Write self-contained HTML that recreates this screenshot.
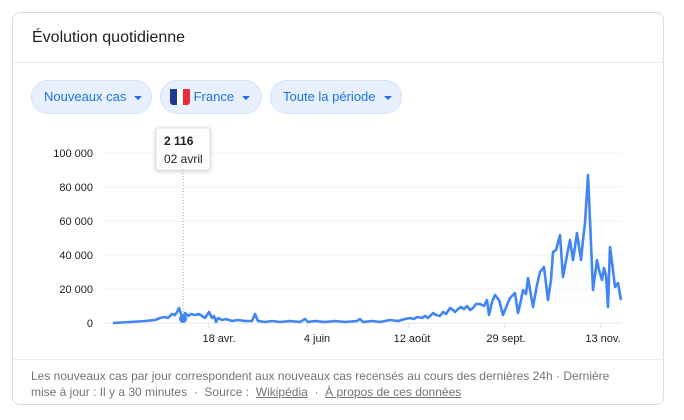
<!DOCTYPE html>
<html><head><meta charset="utf-8"><style>
body{margin:0;background:#fff;font-family:"Liberation Sans",Arial,sans-serif;}
.card{position:absolute;left:12px;top:12px;width:652px;height:393px;border:1px solid #dadce0;border-radius:8px;box-sizing:border-box;}
.title{position:absolute;left:32px;top:29px;font-size:16px;color:#202124;}
.hr{position:absolute;left:13px;width:651px;height:1px;background:#ebebeb;}
.chip{position:absolute;top:80px;height:34px;border-radius:17px;background:#e8f0fe;border:1px solid #d2e3fc;box-sizing:border-box;color:#1a73e8;font-size:13px;line-height:32px;}
.chip .c{display:inline-block;width:0;height:0;border-left:4px solid transparent;border-right:4px solid transparent;border-top:4px solid #1a73e8;vertical-align:middle;margin-left:8px;}
.foot{position:absolute;left:31px;top:368px;font-size:12px;color:#70757a;line-height:16px;width:592px;}
.foot u{color:#70757a;}
</style></head><body>
<div class="card"></div>
<div class="title">Évolution quotidienne</div>
<div class="hr" style="top:62px"></div>
<div class="chip" style="left:31px;width:121px;padding-left:12px">Nouveaux cas<span class="c"></span></div>
<div class="chip" style="left:160px;width:102px;padding-left:9px"><span style="display:inline-block;width:20px;height:18px;vertical-align:middle;margin-top:-3px;border-radius:3px;overflow:hidden"><span style="display:inline-block;width:7px;height:18px;background:#1f3a93"></span><span style="display:inline-block;width:6px;height:18px;background:#fff"></span><span style="display:inline-block;width:7px;height:18px;background:#ee2a3a"></span></span> France<span class="c"></span></div>
<div class="chip" style="left:270px;width:132px;padding-left:12px">Toute la période<span class="c"></span></div>
<svg width="684" height="420" style="position:absolute;left:0;top:0" font-family="Liberation Sans, Arial, sans-serif">
<defs><linearGradient id="g" x1="0" y1="0" x2="0" y2="1"><stop offset="0" stop-color="#e8f0fe" stop-opacity="0.8"/><stop offset="1" stop-color="#fff" stop-opacity="0.2"/></linearGradient></defs>
<g stroke="#f1f3f4" stroke-width="1">
<line x1="105" y1="153" x2="622" y2="153"/><line x1="105" y1="187" x2="622" y2="187"/><line x1="105" y1="221" x2="622" y2="221"/><line x1="105" y1="255" x2="622" y2="255"/><line x1="105" y1="289" x2="622" y2="289"/></g>
<line x1="105" y1="323" x2="622" y2="323" stroke="#e6e6e6"/>
<g font-size="11" fill="#202124" text-anchor="end">
<text x="93" y="157">100 000</text><text x="93" y="191">80 000</text><text x="93" y="225">60 000</text><text x="93" y="259">40 000</text><text x="93" y="293">20 000</text><text x="93" y="327">0</text></g>
<g stroke="#dadce0"><line x1="209" y1="323" x2="209" y2="328"/><line x1="307" y1="323" x2="307" y2="328"/><line x1="409" y1="323" x2="409" y2="328"/><line x1="505" y1="323" x2="505" y2="328"/><line x1="601" y1="323" x2="601" y2="328"/></g>
<g font-size="11" fill="#202124" text-anchor="middle">
<text x="219" y="342">18 avr.</text><text x="317" y="342">4 juin</text><text x="412" y="342">12 août</text><text x="506" y="342">29 sept.</text><text x="603" y="342">13 nov.</text></g>
<line x1="183" y1="170" x2="183" y2="323" stroke="#9aa0a6" stroke-dasharray="1,2"/>
<path d="M113,323 L150,321 160,318 170,315 177,312 179,308 182,316 186,313 190,315 200,314 205,318 209,312 213,318 216,322 218,318 230,320 252,321 255,314 258,321 300,322 305,319 308,322 357,321 360,319 363,322 400,320 410,318 417,317 433,313 450,308 467,306 487,300 489,315 495,295 503,315 510,298 515,293 518,313 523,290 528,278 533,307 540,272 544,267 548,300 553,252 560,235 563,277 570,240 573,260 577,233 581,260 585,223 588,175 593,290 597,260 602,280 604,268 608,307 610,247 615,287 618,283 621,300 L621,323 Z" fill="url(#g)"/>
<polyline points="113,323 130,322 145,321 155,320 160,318 165,317 168,318 172,314 175,315 177,312 179,308 181,314 183,319 185,313 188,316 191,314 195,315 199,314 202,316 205,318 207,315 209,312 212,318 214,316 216,322 218,318 222,320 226,319 232,321 238,320 245,321 252,321 255,314 258,321 265,322 272,321 280,322 290,321 300,322 305,319 308,322 315,321 325,322 335,321 345,322 357,321 360,319 363,322 372,321 380,322 390,320 398,321 405,319 410,318 414,319 417,317 422,318 425,316 428,318 433,313 436,315 440,316 443,312 446,314 450,308 453,310 455,312 458,309 461,307 464,309 467,306 470,310 473,308 476,304 480,304 484,306 487,300 489,315 492,302 495,295 499,300 503,315 507,305 510,298 515,293 518,313 521,300 523,290 526,294 528,278 533,307 537,285 540,272 544,267 548,300 551,280 553,252 556,250 560,235 563,277 567,255 570,240 573,260 577,233 581,260 583,240 585,223 588,175 590,220 593,290 597,260 599,270 602,280 604,268 606,275 608,307 610,247 613,270 615,287 618,283 621,300" fill="none" stroke="#4285f4" stroke-width="2.6" stroke-linejoin="round"/>
<circle cx="183" cy="319" r="4" fill="#4285f4"/>
<rect x="156" y="128" width="54" height="42" fill="#fff" stroke="#e0e0e0" rx="2" style="filter:drop-shadow(0 1px 2px rgba(0,0,0,.2))"/>
<text x="164" y="145" font-size="12" font-weight="bold" fill="#202124">2 116</text>
<text x="164" y="163" font-size="12" fill="#202124">02 avril</text>
</svg>
<div class="hr" style="top:359px"></div>
<div class="foot">Les nouveaux cas par jour correspondent aux nouveaux cas recensés au cours des dernières 24h · Dernière mise à jour : Il y a 30 minutes &nbsp;·&nbsp; Source : &nbsp;<u>Wikipédia</u> &nbsp;·&nbsp; <u>À propos de ces données</u></div>
</body></html>
